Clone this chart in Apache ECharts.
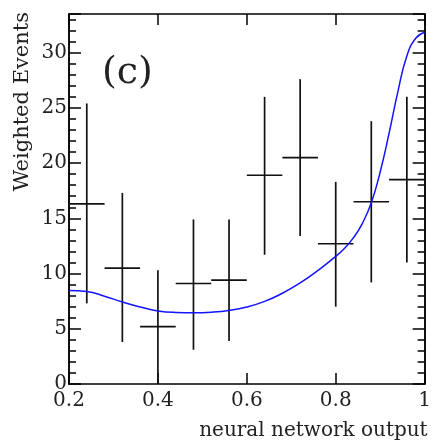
<!DOCTYPE html>
<html>
<head>
<meta charset="utf-8">
<script src="https://cdn.jsdelivr.net/npm/echarts@6/dist/echarts.min.js"></script>
<style>
  html, body { margin: 0; padding: 0; background: #fff; }
  #main { width: 434px; height: 443px; }
</style>
</head>
<body>
<div id="main"></div>
<script>
// measured points (bin centres, value, error bar ends)
const binCenters = [0.24, 0.32, 0.40, 0.48, 0.56, 0.64, 0.72, 0.80, 0.88, 0.96]
const values = [16.3, 10.5, 5.2, 9.1, 9.4, 18.9, 20.5, 12.7, 16.5, 18.5]
const errHigh = [25.4, 17.3, 10.3, 14.9, 14.9, 26.0, 27.6, 18.3, 23.8, 26.0]
const errLow = [7.3, 3.8, 0.0, 3.1, 3.9, 11.7, 13.4, 7.0, 9.2, 11.0]
const binHalfWidth = 0.04

// fit curve (blue)
const curveX = [0.20, 0.24, 0.28, 0.32, 0.36, 0.40, 0.44, 0.48, 0.52, 0.56, 0.60, 0.64, 0.68,
  0.72, 0.76, 0.80, 0.82, 0.84, 0.86, 0.88, 0.90, 0.92, 0.94, 0.96, 0.98, 1.00]
const curveY = [8.46, 8.38, 7.95, 7.42, 6.97, 6.62, 6.48, 6.45, 6.5, 6.66, 6.97, 7.48, 8.22,
  9.15, 10.28, 11.55, 12.3, 13.25, 14.55, 16.4, 19.2, 22.7, 26.5, 29.7, 31.3, 31.85]

const xTicks = [0.2, 0.4, 0.6, 0.8, 1]
const yMax = 33.5

const FONT = 'DejaVu Serif'
const black = '#000'

const chart = echarts.init(document.getElementById('main'))

function xAxisDef(pos) {
  return {
    type: 'value',
    position: pos,
    min: xTicks[0],
    max: xTicks[xTicks.length - 1],
    interval: 0.2,
    axisLine: { show: true, onZero: false, lineStyle: { color: black, width: 1.5 } },
    axisTick: { show: true, inside: true, length: 11, lineStyle: { color: black, width: 1.5 } },
    axisLabel: {
      show: pos === 'bottom',
      margin: 7,
      fontSize: 20,
      fontFamily: FONT,
      color: '#222',
      formatter: v => String(+v.toFixed(1))
    },
    splitLine: { show: false }
  }
}

function yAxisDef(pos, interval, len, labels) {
  return {
    type: 'value',
    position: pos,
    min: 0,
    max: yMax,
    interval: interval,
    axisLine: { show: true, onZero: false, lineStyle: { color: black, width: 1.5 } },
    axisTick: { show: true, inside: true, length: len, lineStyle: { color: black, width: 1.5 } },
    axisLabel: {
      show: labels,
      margin: 2,
      fontSize: 20,
      fontFamily: FONT,
      color: '#222',
      formatter: v => (v % 5 === 0 ? String(v) : '')
    },
    splitLine: { show: false }
  }
}

const xAxisBottom = xAxisDef('bottom')
xAxisBottom.name = 'neural network output'
xAxisBottom.nameLocation = 'end'
xAxisBottom.nameGap = 3
xAxisBottom.nameTextStyle = {
  fontSize: 20, fontFamily: FONT, color: '#222',
  align: 'right', verticalAlign: 'top', padding: [37, 0, 0, 0]
}

const option = {
  animation: false,
  grid: { left: 69, right: 6, top: 14, bottom: 59, containLabel: false },
  xAxis: [xAxisBottom, xAxisDef('top')],
  yAxis: [
    yAxisDef('left', 5, 12, true),
    yAxisDef('left', 1, 7, false),
    yAxisDef('right', 5, 12, false),
    yAxisDef('right', 1, 7, false)
  ],
  graphic: [
    {
      type: 'text',
      x: 23, y: 12,
      rotation: Math.PI / 2,
      style: {
        text: 'Weighted Events',
        fontSize: 21, fontFamily: FONT, fill: '#222',
        align: 'right', verticalAlign: 'middle'
      }
    },
    {
      type: 'text',
      x: 102, y: 73,
      style: {
        text: '(c)',
        fontSize: 38, fontFamily: FONT, fill: '#222',
        align: 'left', verticalAlign: 'middle'
      }
    }
  ],
  series: [
    {
      type: 'line',
      xAxisIndex: 0,
      yAxisIndex: 0,
      data: curveX.map((x, i) => [x, curveY[i]]),
      showSymbol: false,
      smooth: 0.5,
      lineStyle: { color: '#1414ff', width: 1.5 },
      z: 3
    },
    {
      type: 'custom',
      xAxisIndex: 0,
      yAxisIndex: 0,
      data: binCenters.map((x, i) => [x, values[i], errLow[i], errHigh[i]]),
      encode: { x: 0, y: [1, 2, 3] },
      renderItem: (params, api) => {
        const x = api.value(0)
        const y = api.value(1)
        const c = api.coord([x, y])
        const l = api.coord([x - binHalfWidth, y])
        const r = api.coord([x + binHalfWidth, y])
        const lo = api.coord([x, api.value(2)])
        const hi = api.coord([x, api.value(3)])
        const style = { stroke: '#111', lineWidth: 1.7 }
        return {
          type: 'group',
          children: [
            { type: 'line', shape: { x1: l[0], y1: c[1], x2: r[0], y2: c[1] }, style },
            { type: 'line', shape: { x1: c[0], y1: lo[1], x2: c[0], y2: hi[1] }, style }
          ]
        }
      },
      z: 2
    }
  ]
}

chart.setOption(option)
</script>
</body>
</html>
